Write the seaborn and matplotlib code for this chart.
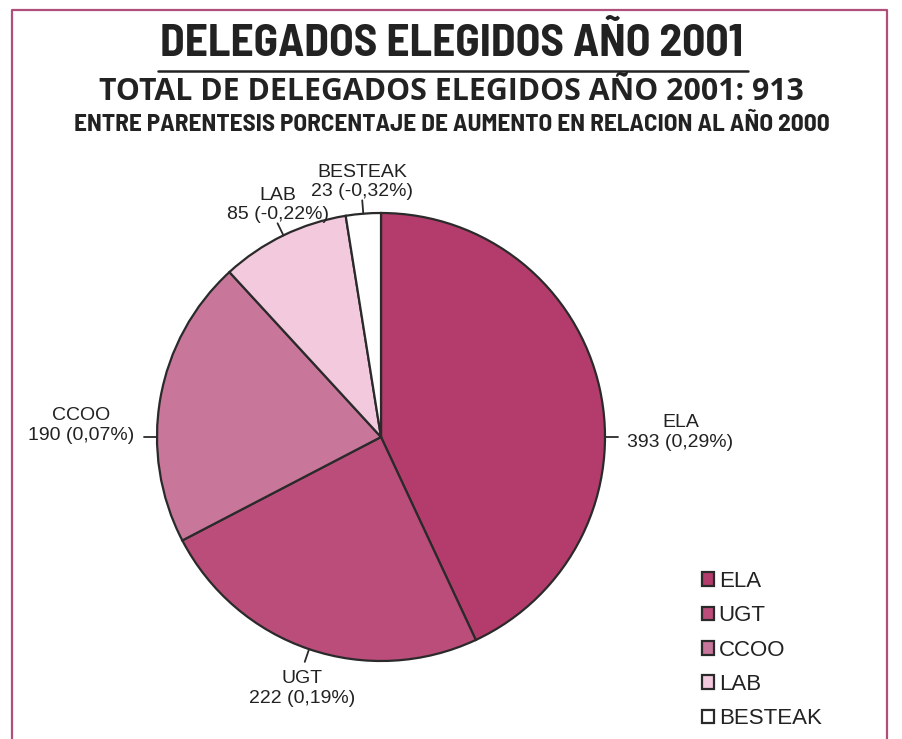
import numpy as np
import matplotlib
matplotlib.use("Agg")
import matplotlib.pyplot as plt
import seaborn as sns
from matplotlib import font_manager
from matplotlib.lines import Line2D

# data
parties = ["ELA", "UGT", "CCOO", "LAB", "BESTEAK"]
delegates = [393, 222, 190, 85, 23]
change = ["0,29%", "0,19%", "0,07%", "-0,22%", "-0,32%"]
colors = ["#b43c6c", "#bb4d7b", "#c8779b", "#f3c9de", "#ffffff"]

title = "DELEGADOS ELEGIDOS AÑO 2001"
subtitle = "TOTAL DE DELEGADOS ELEGIDOS AÑO 2001: 913"
note = "ENTRE PARENTESIS PORCENTAJE DE AUMENTO EN RELACION AL AÑO 2000"

sns.set_theme(style="white")
names = {f.name for f in font_manager.fontManager.ttflist}


def pick(cands):
    for c in cands:
        if c in names:
            return c
    return "DejaVu Sans"


narrow = pick(["Barlow Semi Condensed", "Archivo Narrow", "Asap Condensed"])
wide = pick(["Open Sans", "Noto Sans"])
plt.rcParams["font.family"] = ["Liberation Sans", "DejaVu Sans"]

W, H = 903, 739
fig = plt.figure(figsize=(W / 100, H / 100), dpi=100)
fig.patch.set_facecolor("white")
renderer = fig.canvas.get_renderer()


def fit_text(y_px, s, width_px, family, size, weight="bold"):
    t = fig.text(0.5, 1 - y_px / H, s, ha="center", va="center", fontsize=size,
                 fontweight=weight, family=family, color="#222222")
    w = t.get_window_extent(renderer).width
    t.set_fontsize(size * width_px / w)
    return t


# frame (open at bottom)
fig.add_artist(Line2D([12 / W, 12 / W, 887 / W, 887 / W],
                      [0, 1 - 10 / H, 1 - 10 / H, 0],
                      transform=fig.transFigure, color="#b0507a", lw=1.6))

# titles
fit_text(45, title, 585, narrow, 30, "bold")
fig.add_artist(Line2D([158 / W, 748 / W], [1 - 71 / H, 1 - 71 / H],
                      transform=fig.transFigure, color="#222222", lw=1.8))
fit_text(92, subtitle, 705, wide, 20)
fit_text(125, note, 757, narrow, 15, "bold")

# pie
cx, cy, r = 381, 437, 224
ax = fig.add_axes([(cx - r) / W, (H - cy - r) / H, 2 * r / W, 2 * r / H])
wedges, _ = ax.pie(delegates, colors=colors, startangle=90, counterclock=False,
                   wedgeprops=dict(edgecolor="#2a2a2a", linewidth=1.6))
ax.set_xlim(-1, 1)
ax.set_ylim(-1, 1)
ax.axis("off")

for w, name, n, ch in zip(wedges, parties, delegates, change):
    t1 = w.theta1 % 360
    span = (w.theta2 - w.theta1) % 360

    def inside(a):
        return (a - t1) % 360 <= span

    # side wedges get a level label, the others sit on the mid angle
    if inside(0):
        ang = 0.0
    elif inside(180):
        ang = 180.0
    else:
        ang = (t1 + span / 2) % 360
    c, s = np.cos(np.radians(ang)), np.sin(np.radians(ang))
    ax.plot([c, 1.06 * c], [s, 1.06 * s], color="#2a2a2a", lw=1.3, clip_on=False)
    if c > 0.6:
        ha, va, dy, rr = "left", "center", 0.02, 1.1
    elif c < -0.6:
        ha, va, dy, rr = "right", "center", 0.05, 1.1
    elif s > 0:
        ha, va, dy, rr = "center", "bottom", 0.0, 1.06
    else:
        ha, va, dy, rr = "center", "top", 0.0, 1.1
    ax.text(rr * c, rr * s + dy, f"{name}\n{n} ({ch})", ha=ha, va=va,
            multialignment="center", fontsize=14, color="#222222",
            linespacing=1.2)

fig.legend(wedges, parties, loc="upper left",
           bbox_to_anchor=(682 / W, 1 - 551 / H), frameon=False,
           fontsize=16, handlelength=0.55, handleheight=0.55,
           handletextpad=0.2, labelspacing=0.6, labelcolor="#222222")

fig.savefig("out.png", dpi=100)
